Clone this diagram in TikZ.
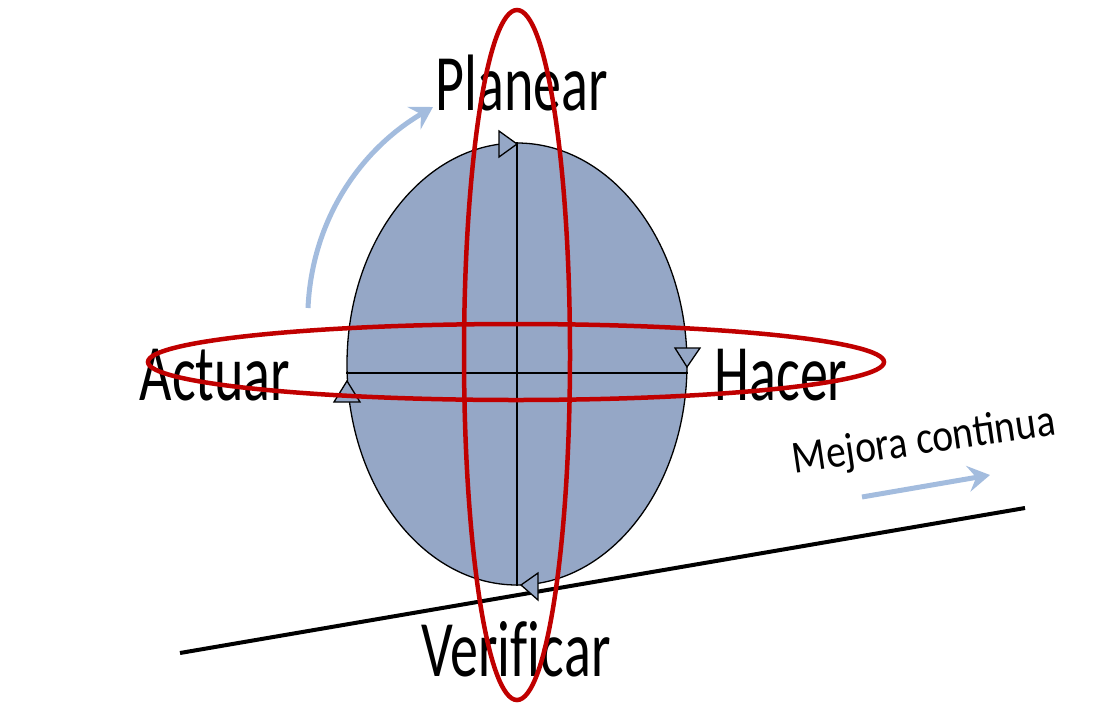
\documentclass[tikz,border=0pt]{standalone}
\usepackage{fontspec}
\setmainfont{Carlito}
\usetikzlibrary{arrows.meta,shapes.geometric,positioning,calc}
\definecolor{cyclefill}{RGB}{149,167,198}
\definecolor{ringred}{RGB}{192,0,0}
\definecolor{flowblue}{RGB}{163,188,222}

\begin{document}
\begin{tikzpicture}[
      x=1pt, y=-1pt,
      cycle/.style={ellipse, draw=black, fill=cyclefill, line width=1.3pt, inner sep=0pt, minimum width=340pt, minimum height=442pt},
      phase/.style={anchor=base, inner sep=0pt, xscale=0.7, font=\fontsize{80}{80}\selectfont},
      ring/.style={draw=ringred, line width=4.5pt},
      tri/.style={draw=black, fill=cyclefill, line width=1.3pt},
      flow/.style={draw=flowblue, line width=5pt, -{Stealth[length=22pt, width=26pt, inset=8pt]}}
    ]
      \useasboundingbox (0,0) rectangle (1113,702);

      % base line of improvement
      \coordinate (base_l) at (180,653);
      \coordinate (base_r) at (1025,508);
      \draw[line width=4pt] (base_l) -- (base_r);

      % the cycle and its axes
      \node[cycle] (pdca) at (517,364) {};
      \draw[line width=1.3pt] (pdca.north) -- (pdca.south);
      \draw[line width=1.3pt] ([yshift=-9pt]pdca.west) -- ([yshift=-9pt]pdca.east);

      \draw[tri] (499,131) -- (499,157) -- (517,144) -- cycle;
      \draw[tri] (675,348) -- (700,348) -- (687,367) -- cycle;
      \draw[tri] (538,573) -- (538,600) -- (521,585) -- cycle;
      \draw[tri] (334,402) -- (360,402) -- (347,381) -- cycle;

      \node[phase] (planear) at (522,110) {Planear};
      \node[phase] (hacer) at (781,400) {Hacer};
      \node[phase] (verificar) at (516,676) {Verif\kern0pt ic\kern0pt ar};
      \node[phase] (actuar) at (215,400) {Actuar};
      \node[inner sep=0pt, rotate=8.4, xscale=0.86, font=\fontsize{46}{46}\selectfont] (mejora) at (924,442) {Mejora continua};

      % arrows
      \coordinate (turn_s) at (308,308);
      \coordinate (turn_e) at (433,107);
      \draw[flow] (turn_s) .. controls (312,220) and (360,150) .. (turn_e);
      \coordinate (push_s) at (862,497);
      \coordinate (push_e) at (990,475);
      \draw[flow] (push_s) -- (push_e);

      % red rings
      \draw[ring] (517,355) ellipse [x radius=53, y radius=345];
      \draw[ring] (516,362) ellipse [x radius=368, y radius=38];
    \end{tikzpicture}
\end{document}
